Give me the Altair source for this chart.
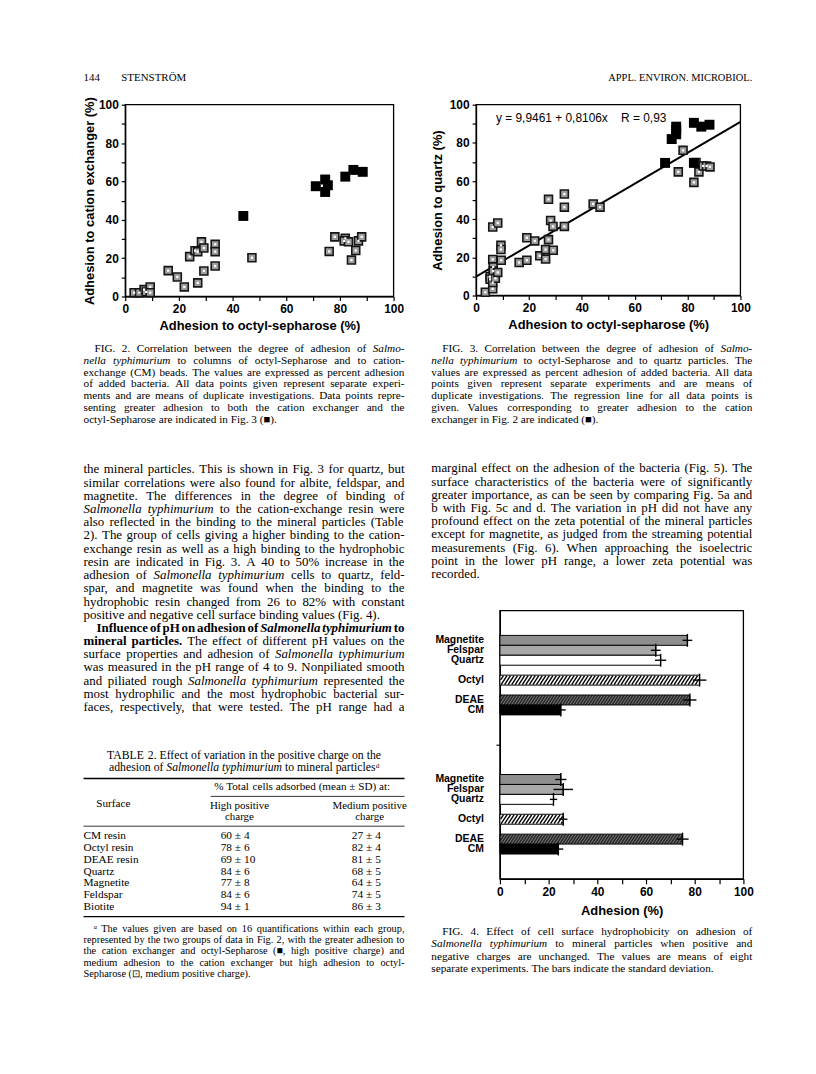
import altair as alt
import pandas as pd

# ----------------------------------------------------------------------------
# Fig. 2 : adhesion to octyl-Sepharose (x, %) vs adhesion to cation exchanger (y, %)
# ----------------------------------------------------------------------------
fig2_high_x = [44, 71, 74.5, 74.5, 75.5, 82, 85, 88.5]
fig2_high_y = [42, 57.5, 61, 54.5, 58, 62.5, 66, 65]
fig2_med_x = [3.3, 5.3, 7, 7.8, 9.3, 9.3, 16, 19.4, 22, 24, 26, 27, 28.4, 29.3, 29.3,
              27, 33.5, 33.5, 33.5, 47.2, 78.1, 82, 81.6, 83.2, 86.9, 88.1, 76, 85.9, 84.3]
fig2_med_y = [2, 2, 3.6, 2.4, 5, 2, 13.5, 10.2, 5, 20.8, 23.9, 23.4, 28.5, 25.3, 13.3,
              7.1, 27.2, 23.4, 15.9, 20.2, 31.1, 30.3, 29, 28.5, 29, 31.1, 23.5, 24, 19]

# ----------------------------------------------------------------------------
# Fig. 3 : adhesion to octyl-Sepharose (x, %) vs adhesion to quartz (y, %)
# ----------------------------------------------------------------------------
fig3_high_x = [71.5, 74, 75.7, 75.7, 75.7, 82.4, 85.2, 88.3, 82.4]
fig3_high_y = [69.5, 82, 84.5, 87, 88.5, 90.5, 88.5, 89.5, 69.5]
fig3_med_x = [3.5, 5.3, 5.3, 6.3, 6.3, 6.3, 6.5, 6.5, 7.3, 8.2, 6.3, 8.2, 9.4, 9.4, 9.5,
              16.3, 19.2, 19.2, 22.2, 24.1, 26.3, 26.3, 27.4, 27.4, 28.2, 29.1, 29.2, 33.4,
              33.4, 33.4, 44.3, 46.9, 78.3, 76.5, 82.4, 83.2, 84.3, 85.9, 87.2, 88.5]
fig3_med_y = [1.7, 9.9, 8.5, 3.5, 6.8, 18.9, 15, 12.8, 9, 12.1, 35.9, 38, 26.3, 24.1, 18.5,
              17.3, 30.3, 18.5, 28.6, 20.8, 24.1, 19.1, 50.4, 29.3, 39.3, 36.2, 23.7, 53.2,
              46.3, 36.2, 48, 46.3, 76.1, 64.8, 59.3, 69.7, 64.8, 67.9, 67.9, 67.4]
fig3_intercept = 9.9461
fig3_slope = 0.8106
fig3_line_x = [0, 100]
fig3_equation = "y = 9,9461 + 0,8106x\u00a0\u00a0\u00a0\u00a0R = 0,93"

# ----------------------------------------------------------------------------
# Fig. 4 : adhesion (%) of two groups of cells, mean and SD
# ----------------------------------------------------------------------------
fig4_surfaces = ["Magnetite", "Felspar", "Quartz", "Octyl", "DEAE", "CM"]
fig4_upper_mean = [77, 64, 66, 82, 78, 25]
fig4_upper_sd = [2, 2, 2.3, 2.8, 2.7, 2]
fig4_lower_mean = [25, 26, 22, 26, 75, 24]
fig4_lower_sd = [2.3, 4, 1.5, 1.7, 2.5, 2]
fig4_slot_order = ["Magnetite", "Felspar", "Quartz", "", "Octyl", "", "DEAE", "CM"]
fig4_group_gap = 6

# ----------------------------------------------------------------------------
# Table 2
# ----------------------------------------------------------------------------
table_surfaces = ["CM resin", "Octyl resin", "DEAE resin", "Quartz", "Magnetite", "Feldspar", "Biotite"]
table_high = ["60 ± 4", "78 ± 6", "69 ± 10", "84 ± 6", "77 ± 8", "84 ± 6", "94 ± 1"]
table_medium = ["27 ± 4", "82 ± 4", "81 ± 5", "68 ± 5", "64 ± 5", "74 ± 5", "86 ± 3"]
table_title = ["TABLE 2. Effect of variation in the positive charge on the",
               "adhesion of _Salmonella typhimurium_ to mineral particles_ᵃ_"]
table_group_head = "% Total cells adsorbed (mean ± SD) at:"
table_col_heads = [["High positive", "charge"], ["Medium positive", "charge"]]

# ----------------------------------------------------------------------------
# Page text ( _ toggles italic, ^ toggles bold )
# ----------------------------------------------------------------------------
header_left = ["144", "STENSTRÖM"]
header_right = "APPL. ENVIRON. MICROBIOL."

fig2_caption = [
    "FIG. 2. Correlation between the degree of adhesion of _Salmo-_",
    "_nella typhimurium_ to columns of octyl-Sepharose and to cation-",
    "exchange (CM) beads. The values are expressed as percent adhesion",
    "of added bacteria. All data points given represent separate experi-",
    "ments and are means of duplicate investigations. Data points repre-",
    "senting greater adhesion to both the cation exchanger and the",
    "octyl-Sepharose are indicated in Fig. 3 (■).",
]
fig3_caption = [
    "FIG. 3. Correlation between the degree of adhesion of _Salmo-_",
    "_nella typhimurium_ to octyl-Sepharose and to quartz particles. The",
    "values are expressed as percent adhesion of added bacteria. All data",
    "points given represent separate experiments and are means of",
    "duplicate investigations. The regression line for all data points is",
    "given. Values corresponding to greater adhesion to the cation",
    "exchanger in Fig. 2 are indicated (■).",
]
left_body = [
    "the mineral particles. This is shown in Fig. 3 for quartz, but",
    "similar correlations were also found for albite, feldspar, and",
    "magnetite. The differences in the degree of binding of",
    "_Salmonella typhimurium_ to the cation-exchange resin were",
    "also reflected in the binding to the mineral particles (Table",
    "2). The group of cells giving a higher binding to the cation-",
    "exchange resin as well as a high binding to the hydrophobic",
    "resin are indicated in Fig. 3. A 40 to 50% increase in the",
    "adhesion of _Salmonella typhimurium_ cells to quartz, feld-",
    "spar, and magnetite was found when the binding to the",
    "hydrophobic resin changed from 26 to 82% with constant",
    "positive and negative cell surface binding values (Fig. 4).",
]
influence_par = [
    "^Influence of pH on adhesion of _Salmonella typhimurium_ to^",
    "^mineral particles.^ The effect of different pH values on the",
    "surface properties and adhesion of _Salmonella typhimurium_",
    "was measured in the pH range of 4 to 9. Nonpiliated smooth",
    "and piliated rough _Salmonella typhimurium_ represented the",
    "most hydrophilic and the most hydrophobic bacterial sur-",
    "faces, respectively, that were tested. The pH range had a",
]
right_body = [
    "marginal effect on the adhesion of the bacteria (Fig. 5). The",
    "surface characteristics of the bacteria were of significantly",
    "greater importance, as can be seen by comparing Fig. 5a and",
    "b with Fig. 5c and d. The variation in pH did not have any",
    "profound effect on the zeta potential of the mineral particles",
    "except for magnetite, as judged from the streaming potential",
    "measurements (Fig. 6). When approaching the isoelectric",
    "point in the lower pH range, a lower zeta potential was",
    "recorded.",
]
fig4_caption = [
    "FIG. 4. Effect of cell surface hydrophobicity on adhesion of",
    "_Salmonella typhimurium_ to mineral particles when positive and",
    "negative charges are unchanged. The values are means of eight",
    "separate experiments. The bars indicate the standard deviation.",
]
table_footnote = [
    "_ᵃ_ The values given are based on 16 quantifications within each group,",
    "represented by the two groups of data in Fig. 2, with the greater adhesion to",
    "the cation exchanger and octyl-Sepharose (■, high positive charge) and",
    "medium adhesion to the cation exchanger but high adhesion to octyl-",
    "Sepharose (⊡, medium positive charge).",
]

# ----------------------------------------------------------------------------
# Styles / layout (page pixels)
# ----------------------------------------------------------------------------
SERIF = "Liberation Serif"
SANS = "Liberation Sans"
MARGIN = 8
COL_L, COL_R, COL_W = 80, 430, 323
TICKS = list(range(0, 101, 10))
fig4_fills = ["#8e8e8e", "#a8a8a8", "white", "white", "#2a2a2a", "black"]

# Times-compatible advance widths (1/1000 em)
_UP = "ABCDEFGHIJKLMNOPQRSTUVWXYZ"
_LO = "abcdefghijklmnopqrstuvwxyz"
_PUNCT = {' ': 250, '(': 333, ')': 333, ',': 250, '.': 250, '-': 333, ':': 278, ';': 278,
          '%': 833, '±': 564, 'Ö': 722, '■': 600, '⊡': 800, 'ᵃ': 300, "'": 333}


def _table(up, lo, extra=None):
    t = {str(d): 500 for d in range(10)}
    t.update(_PUNCT)
    t.update(dict(zip(_UP, up)))
    t.update(dict(zip(_LO, lo)))
    if extra:
        t.update(extra)
    return t


REG = _table([722, 667, 667, 722, 611, 556, 722, 722, 333, 389, 722, 611, 889, 722, 722, 556, 722, 667, 556, 611, 722, 722, 944, 722, 722, 611],
             [444, 500, 444, 500, 444, 333, 500, 500, 278, 278, 500, 278, 778, 500, 500, 500, 500, 333, 389, 278, 500, 500, 722, 500, 500, 444])
ITA = _table([611, 611, 667, 722, 611, 611, 722, 722, 333, 444, 667, 556, 833, 667, 722, 611, 722, 611, 500, 556, 722, 611, 833, 611, 556, 556],
             [500, 500, 444, 500, 444, 278, 500, 500, 278, 278, 444, 278, 722, 500, 500, 500, 500, 389, 389, 278, 500, 444, 667, 444, 444, 389],
             {':': 333})
BLD = _table([722, 667, 722, 722, 667, 611, 778, 778, 389, 500, 778, 667, 944, 722, 778, 611, 778, 722, 556, 667, 722, 722, 1000, 722, 722, 667],
             [500, 556, 444, 556, 444, 333, 500, 556, 278, 333, 556, 278, 833, 556, 500, 556, 556, 444, 389, 333, 556, 500, 722, 500, 500, 444],
             {':': 333})
BIT = _table([667, 667, 667, 722, 667, 667, 722, 778, 389, 500, 667, 611, 889, 722, 722, 611, 722, 667, 556, 611, 722, 667, 889, 667, 611, 611],
             [500, 500, 444, 500, 444, 333, 500, 556, 278, 278, 500, 278, 778, 556, 500, 500, 500, 389, 389, 278, 556, 444, 667, 500, 444, 389],
             {':': 333})


def piece_w(t, it, bd, size):
    tab = BIT if (it and bd) else ITA if it else BLD if bd else REG
    return sum(tab.get(c, 500) for c in t) * size / 1000.0


def parse(line):
    words, cur, buf = [], [], []
    state = {'it': False, 'bd': False}

    def flush():
        if buf:
            cur.append((''.join(buf), state['it'], state['bd']))
            buf.clear()

    for ch in line:
        if ch == '_':
            flush(); state['it'] = not state['it']
        elif ch == '^':
            flush(); state['bd'] = not state['bd']
        elif ch == ' ':
            flush()
            if cur:
                words.append(list(cur)); cur.clear()
        else:
            buf.append(ch)
    flush()
    if cur:
        words.append(list(cur))
    return words


def set_block(items, lines, x0, y0, lead, size, width=COL_W, indent=0.0,
              justify=True, last_justify=False, align='left'):
    for i, line in enumerate(lines):
        words = parse(line)
        ws = [sum(piece_w(t, it, bd, size) for t, it, bd in w) for w in words]
        ind = indent if i == 0 else 0.0
        is_last = i == len(lines) - 1
        do_just = justify and (not is_last or last_justify) and len(words) > 1
        space = 0.25 * size
        natural = sum(ws) + space * (len(words) - 1)
        gap = (width - ind - sum(ws)) / (len(words) - 1) if do_just else space
        if align == 'center':
            x = x0 - natural / 2.0
        elif align == 'right':
            x = x0 - natural
        else:
            x = x0 + ind
        y = y0 + i * lead
        for w, wd in zip(words, ws):
            xx = x
            for t, it, bd in w:
                items.append({'px': xx, 'py': y, 't': t, 'size': size, 'it': it, 'bd': bd})
                xx += piece_w(t, it, bd, size)
            x += wd + gap


def text_panel(items, rules, ox, oy, w, h):
    df = pd.DataFrame(items)
    df['px'] = df['px'] - ox
    df['py'] = df['py'] - oy
    layers = []
    for (it, bd), sub in df.groupby(['it', 'bd']):
        layers.append(
            alt.Chart(sub[['px', 'py', 't', 'size']].reset_index(drop=True)).mark_text(
                font=SERIF, fontStyle='italic' if it else 'normal',
                fontWeight='bold' if bd else 'normal', align='left', baseline='middle',
                color='black'
            ).encode(
                x=alt.X('px:Q', scale=None, axis=None),
                y=alt.Y('py:Q', scale=None, axis=None),
                size=alt.Size('size:Q', scale=None, legend=None),
                text='t:N',
            )
        )
    if rules:
        rd = pd.DataFrame(rules, columns=['x0', 'x1', 'y', 'w'])
        rd['x0'] -= ox
        rd['x1'] -= ox
        rd['y'] -= oy
        layers.append(
            alt.Chart(rd).mark_rule(color='black').encode(
                x=alt.X('x0:Q', scale=None, axis=None), x2='x1:Q',
                y=alt.Y('y:Q', scale=None, axis=None),
                strokeWidth=alt.StrokeWidth('w:Q', scale=None, legend=None),
            )
        )
    return alt.layer(*layers).properties(width=w, height=h)


def spacer(w, h):
    return alt.Chart(pd.DataFrame({'a': [0]})).mark_point(opacity=0).encode(
        x=alt.value(0), y=alt.value(0)).properties(width=w, height=h)


def frame(w, h):
    return alt.Chart(pd.DataFrame({'a': [0]})).mark_rect(
        fillOpacity=0, stroke='black', strokeWidth=1.3
    ).encode(x=alt.value(0), x2=alt.value(w), y=alt.value(0), y2=alt.value(h))


def fig_axis(title, label_pad, title_pad, tick=4):
    return alt.Axis(
        title=title, values=TICKS,
        labelExpr="datum.value % 20 == 0 ? datum.label : ''",
        grid=False, tickSize=tick, tickWidth=1.2, tickColor='black',
        domainColor='black', domainWidth=1.2,
        labelFont=SANS, labelFontSize=12, labelFontWeight='bold', labelColor='black',
        labelPadding=label_pad, labelFlush=False, labelOverlap=False,
        titleFont=SANS, titleFontSize=13, titleFontWeight='bold', titleColor='black',
        titlePadding=title_pad,
    )


def scatter(high_x, high_y, med_x, med_y, w, h, xtitle, ytitle, ytitle_pad, extra=()):
    med = pd.DataFrame({'x': med_x, 'y': med_y})
    high = pd.DataFrame({'x': high_x, 'y': high_y})
    X = alt.X('x:Q', scale=alt.Scale(domain=[0, 100], nice=False), axis=fig_axis(xtitle, 3, 5))
    Y = alt.Y('y:Q', scale=alt.Scale(domain=[0, 100], nice=False), axis=fig_axis(ytitle, 3, ytitle_pad))
    outer = alt.Chart(med).mark_point(shape='square', size=64, filled=True, fill='#9c9c9c',
                                      stroke='#151515', strokeWidth=1.6, opacity=1).encode(x=X, y=Y)
    inner = alt.Chart(med).mark_point(shape='square', size=5, filled=True, fill='white',
                                      strokeWidth=0, opacity=1).encode(x=X, y=Y)
    hi = alt.Chart(high).mark_point(shape='square', size=100, filled=True, fill='black',
                                    strokeWidth=0, opacity=1).encode(x=X, y=Y)
    layers = [frame(w, h)] + [e(X, Y) for e in extra] + [outer, inner, hi]
    return alt.layer(*layers).properties(width=w, height=h)


# ---------------- Fig. 2 and Fig. 3 ----------------
fig2 = scatter(fig2_high_x, fig2_high_y, fig2_med_x, fig2_med_y, 270, 193,
               "Adhesion to octyl-sepharose (%)", "Adhesion to cation exchanger (%)", 2)


def reg_line(X, Y):
    return alt.Chart(pd.DataFrame({'x': fig3_line_x})).transform_calculate(
        y=f"{fig3_intercept} + {fig3_slope} * datum.x"
    ).mark_line(color='black', strokeWidth=2).encode(x=X, y=Y)


def eq_text(X, Y):
    return alt.Chart(pd.DataFrame({'t': [fig3_equation]})).mark_text(
        align='left', baseline='middle', font=SANS, fontSize=12, color='black'
    ).encode(x=alt.value(20), y=alt.value(13), text='t:N')


fig3 = scatter(fig3_high_x, fig3_high_y, fig3_med_x, fig3_med_y, 266, 192,
               "Adhesion to octyl-sepharose (%)", "Adhesion to quartz (%)", 5,
               extra=(reg_line, eq_text))

# ---------------- Fig. 4 ----------------
stride = len(fig4_slot_order) + fig4_group_gap
rows = []
for g, (means, sds) in enumerate([(fig4_upper_mean, fig4_upper_sd), (fig4_lower_mean, fig4_lower_sd)]):
    for name, m, s in zip(fig4_surfaces, means, sds):
        rows.append({'name': name, 'v': m, 'sd': s, 'slot': g * stride + fig4_slot_order.index(name)})
df4 = pd.DataFrame(rows)
slot_lo = float(df4['slot'].min()) - 3
slot_hi = float(df4['slot'].max()) + 3
slot_mid = (fig4_slot_order.index("CM") + stride + fig4_slot_order.index("Magnetite")) / 2.0

W4, H4 = 245, 270
ax4 = alt.Axis(title="Adhesion (%)", values=TICKS,
               labelExpr="datum.value % 20 == 0 ? datum.label : ''",
               grid=False, tickSize=5, tickWidth=1.2, tickColor='black',
               domainColor='black', domainWidth=1.2,
               labelFont=SANS, labelFontSize=12, labelFontWeight='bold', labelColor='black',
               labelPadding=3, labelFlush=False, labelOverlap=False,
               titleFont=SANS, titleFontSize=13, titleFontWeight='bold', titleColor='black',
               titlePadding=7)
ay4 = alt.Axis(title=None, values=[slot_mid], labels=False, grid=False, tickSize=4,
               tickWidth=1.2, tickColor='black', domainColor='black', domainWidth=1.2)
xs4 = alt.Scale(domain=[0, 100], nice=False)
ys4 = alt.Scale(domain=[slot_lo, slot_hi], reverse=True, nice=False, zero=False)


def X4(f):
    return alt.X(f, scale=xs4, axis=ax4)


def Y4(f):
    return alt.Y(f, scale=ys4, axis=ay4)


base4 = alt.Chart(df4)
bars = base4.transform_calculate(
    y0='datum.slot - 0.5', y1='datum.slot + 0.5', z='0'
).mark_rect(stroke='black', strokeWidth=1).encode(
    x=X4('z:Q'), x2='v:Q', y=Y4('y0:Q'), y2='y1:Q',
    fill=alt.Fill('name:N', scale=alt.Scale(domain=fig4_surfaces, range=fig4_fills), legend=None),
)


def stripes(name, step, color, width, span=2.4):
    return base4.transform_filter(alt.datum.name == name).transform_calculate(
        s=f"sequence(-{span}, datum.v, {step})"
    ).transform_flatten(['s']).transform_calculate(
        xa='max(datum.s, 0.3)', xb=f'min(datum.s + {span}, datum.v - 0.3)'
    ).transform_filter('datum.xb > datum.xa').transform_calculate(
        ya=f'datum.slot + 0.45 - 0.9 * (datum.xa - datum.s) / {span}',
        yb=f'datum.slot + 0.45 - 0.9 * (datum.xb - datum.s) / {span}',
    ).mark_rule(color=color, strokeWidth=width).encode(
        x=X4('xa:Q'), x2='xb:Q', y=Y4('ya:Q'), y2='yb:Q')


err = base4.transform_calculate(
    lo='datum.v - datum.sd', hi='datum.v + datum.sd'
).mark_rule(color='black', strokeWidth=1.4).encode(x=X4('lo:Q'), x2='hi:Q', y=Y4('slot:Q'))
cap = base4.transform_calculate(
    t0='datum.slot - 0.65', t1='datum.slot + 0.65'
).mark_rule(color='black', strokeWidth=1.4).encode(x=X4('v:Q'), y=Y4('t0:Q'), y2='t1:Q')
labels4 = base4.mark_text(align='right', baseline='middle', font=SANS, fontSize=10.5,
                          fontWeight='bold', color='black').encode(
    x=alt.value(-16), y=Y4('slot:Q'), text='name:N')

fig4 = alt.layer(
    frame(W4, H4), bars,
    stripes("Octyl", 1.45, 'black', 1.4),
    stripes("DEAE", 1.2, '#a0a0a0', 0.7),
    err, cap, labels4,
).properties(width=W4, height=H4)

# ---------------- page text ----------------
HEADER_H = 93          # page y 8 .. 101
ROW2_H = 193           # page y 101 .. 294
BOTTOM_TOP = MARGIN + HEADER_H + ROW2_H

head_items = []
set_block(head_items, [header_left[0]], 80, 74, 0, 11, justify=False)
set_block(head_items, [header_left[1]], 118, 74, 0, 11, justify=False)
set_block(head_items, [header_right], COL_R + COL_W, 74, 0, 10.5,
          justify=False, align='right')

items = []
set_block(items, fig2_caption, COL_L, 347, 11.8, 11.3, indent=11)
set_block(items, fig3_caption, COL_R, 347, 11.8, 11.3, indent=11)
set_block(items, left_body, COL_L, 468, 13.3, 13)
set_block(items, influence_par, COL_L, 627.3, 13.3, 13, indent=13, last_justify=True)
set_block(items, right_body, COL_R, 467, 13.3, 13)
set_block(items, fig4_caption, COL_R, 933, 12.6, 11.3, indent=11)

# table
tcx = COL_L + COL_W / 2.0
set_block(items, table_title, tcx, 755, 12, 11.8, justify=False, align='center')
set_block(items, [table_group_head], 300, 788, 0, 11.2, justify=False, align='center')
set_block(items, ["Surface"], 110, 805, 0, 11.2, justify=False, align='center')
for cx, lines in zip([237, 368], table_col_heads):
    set_block(items, lines, cx, 807, 11.2, 11, justify=False, align='center')
set_block(items, table_surfaces, COL_L, 837, 11.9, 11.4, justify=False)
set_block(items, table_high, 218, 837, 11.9, 11.4, justify=False)
set_block(items, table_medium, 350, 837, 11.9, 11.4, justify=False)
set_block(items, table_footnote, COL_L, 930, 11.4, 10.4, indent=10)
table_rules = [
    (COL_L, COL_L + COL_W, 779, 1.6),
    (208, COL_L + COL_W, 797, 0.8),
    (COL_L, COL_L + COL_W, 827, 0.8),
    (COL_L, COL_L + COL_W, 918, 1.2),
]

header_panel = text_panel(head_items, None, MARGIN, MARGIN, 800, HEADER_H)
bottom_panel = text_panel(items, table_rules, MARGIN, BOTTOM_TOP, 491, 772)

# A nested concat counts as zero height inside a flush vconcat, so an invisible
# spacer of the figure row's height follows it.
row2 = alt.hconcat(spacer(114, ROW2_H), fig2, spacer(83, ROW2_H), fig3,
                   spacing=0, bounds='flush')
fig4_col = alt.vconcat(spacer(W4, 316), fig4, spacing=0, bounds='flush')
row3 = alt.hconcat(bottom_panel, fig4_col, spacing=0, bounds='flush')

chart = alt.vconcat(header_panel, row2, spacer(10, ROW2_H), row3,
                    spacing=0, bounds='flush').properties(
    padding=0, background='white'
).configure_view(stroke='transparent')

chart.save("out.html", embed_options={"renderer": "svg", "actions": False})
